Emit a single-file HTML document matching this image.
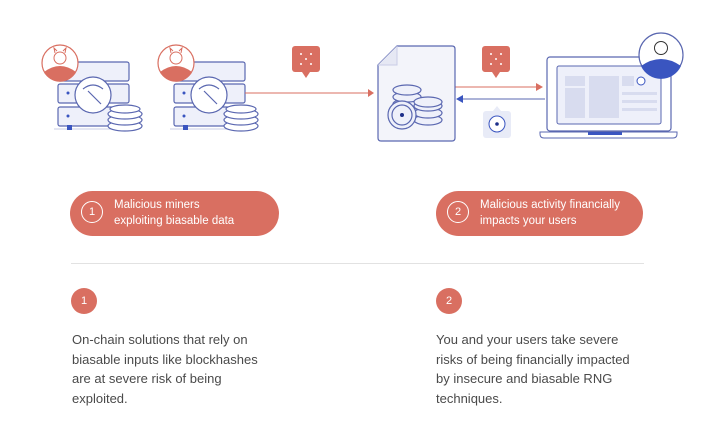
<!DOCTYPE html>
<html><head><meta charset="utf-8"><style>
body{margin:0;width:720px;height:441px;background:#fff;font-family:"Liberation Sans",sans-serif;overflow:hidden;position:relative}
.pill{position:absolute;top:191px;height:45px;border-radius:23px;background:#d96f61;color:#fff;font-size:11.5px;line-height:16px;box-sizing:border-box;padding:6px 0 0 44px}
.pill .n{position:absolute;left:11px;top:10px;width:22px;height:22px;border:1.3px solid #fff;border-radius:50%;box-sizing:border-box;text-align:center;line-height:20px;font-size:11px}
.dot{position:absolute;top:288px;width:26px;height:26px;border-radius:50%;background:#d96f61;color:#fff;font-size:11px;text-align:center;line-height:26px}
.p{position:absolute;top:330px;font-size:13px;line-height:19.5px;color:#4a4a4a}
</style></head><body>
<svg width="720" height="180" style="position:absolute;left:0;top:0" xmlns="http://www.w3.org/2000/svg">
<g fill="#eef0fa" stroke="#5a67b0" stroke-width="1.2">
  <rect x="58" y="62" width="71" height="19" rx="2"/>
  <rect x="58" y="84" width="71" height="19" rx="2"/>
  <rect x="58" y="107" width="71" height="19" rx="2"/>
  <rect x="174" y="62" width="71" height="19" rx="2"/>
  <rect x="174" y="84" width="71" height="19" rx="2"/>
  <rect x="174" y="107" width="71" height="19" rx="2"/>
</g>
<line x1="54" y1="129" x2="132" y2="129" stroke="#c9cde6"/><rect x="67" y="125" width="5" height="5" fill="#3a55c0"/>
<line x1="170" y1="129" x2="248" y2="129" stroke="#c9cde6"/><rect x="183" y="125" width="5" height="5" fill="#3a55c0"/>
<circle cx="68" cy="93" r="1.5" fill="#3a55c0"/><circle cx="68" cy="116" r="1.5" fill="#3a55c0"/>
<circle cx="184" cy="93" r="1.5" fill="#3a55c0"/><circle cx="184" cy="116" r="1.5" fill="#3a55c0"/>
<g stroke="#d96f61" stroke-width="1.2">
<circle cx="60" cy="63" r="18" fill="#fff"/><circle cx="176" cy="63" r="18" fill="#fff"/>
</g>
<path d="M44,72 Q60,60 76,72 A18,18 0 0 1 44,72Z" fill="#d96f61"/>
<path d="M160,72 Q176,60 192,72 A18,18 0 0 1 160,72Z" fill="#d96f61"/>
<circle cx="60" cy="58" r="6" fill="#fff" stroke="#d96f61"/><circle cx="176" cy="58" r="6" fill="#fff" stroke="#d96f61"/>
<path d="M55,53 L54,48 L57,51 M65,53 L66,48 L63,51 M171,53 L170,48 L173,51 M181,53 L182,48 L179,51" fill="none" stroke="#d96f61"/>
<g fill="#fff" stroke="#5a67b0" stroke-width="1.2">
<circle cx="93" cy="95" r="18"/><circle cx="209" cy="95" r="18"/>
<path d="M83,89 Q93,81 103,89 M88,91 L101,104" fill="none"/>
<path d="M199,89 Q209,81 219,89 M204,91 L217,104" fill="none"/>
<ellipse cx="125" cy="126" rx="17" ry="5"/><ellipse cx="125" cy="120" rx="17" ry="5"/><ellipse cx="125" cy="114" rx="17" ry="5"/><ellipse cx="125" cy="109" rx="15" ry="4"/>
<ellipse cx="241" cy="126" rx="17" ry="5"/><ellipse cx="241" cy="120" rx="17" ry="5"/><ellipse cx="241" cy="114" rx="17" ry="5"/><ellipse cx="241" cy="109" rx="15" ry="4"/>
</g>
<line x1="245" y1="93" x2="368" y2="93" stroke="#d96f61"/><path d="M368,89 L374,93 L368,97Z" fill="#d96f61"/>
<line x1="455" y1="87" x2="536" y2="87" stroke="#d96f61"/><path d="M536,83 L543,87 L536,91Z" fill="#d96f61"/>
<line x1="463" y1="99" x2="545" y2="99" stroke="#5a67b0"/><path d="M463,95 L456,99 L463,103Z" fill="#3a55c0"/>
<rect x="292" y="46" width="28" height="26" rx="3" fill="#d96f61"/><path d="M302,72 L306,78 L310,72Z" fill="#d96f61"/>
<rect x="482" y="46" width="28" height="26" rx="3" fill="#d96f61"/><path d="M492,72 L496,78 L500,72Z" fill="#d96f61"/>
<g fill="#fff"><circle cx="301" cy="54" r="1"/><circle cx="311" cy="54" r="1"/><circle cx="306" cy="59" r="1"/><circle cx="301" cy="64" r="1"/><circle cx="311" cy="64" r="1"/>
<circle cx="491" cy="54" r="1"/><circle cx="501" cy="54" r="1"/><circle cx="496" cy="59" r="1"/><circle cx="491" cy="64" r="1"/><circle cx="501" cy="64" r="1"/></g>
<rect x="483" y="111" width="28" height="27" rx="3" fill="#e8ebf7"/><path d="M493,111 L497,106 L501,111Z" fill="#e8ebf7"/>
<circle cx="497" cy="124" r="8" fill="#fff" stroke="#3a55c0"/><circle cx="497" cy="124" r="1.8" fill="#1d2f8a"/>
<path d="M397,46 L452,46 Q455,46 455,49 L455,138 Q455,141 452,141 L381,141 Q378,141 378,138 L378,65Z" fill="#f3f4fa" stroke="#5a67b0" stroke-width="1.2"/>
<path d="M397,46 L397,65 L378,65" fill="#e6e8f4" stroke="#c9cde6"/>
<g fill="#eef0fa" stroke="#5a67b0" stroke-width="1.2">
<ellipse cx="407" cy="104" rx="14" ry="5"/><ellipse cx="407" cy="97" rx="14" ry="5"/><ellipse cx="407" cy="90" rx="14" ry="5"/>
<ellipse cx="428" cy="120" rx="14" ry="5"/><ellipse cx="428" cy="113" rx="14" ry="5"/><ellipse cx="428" cy="106" rx="14" ry="5"/><ellipse cx="428" cy="102" rx="14" ry="5"/>
<circle cx="402" cy="115" r="14"/><circle cx="402" cy="115" r="10"/>
</g><circle cx="402" cy="115" r="2" fill="#1d2f8a"/>
<rect x="547" y="57" width="124" height="74" rx="3" fill="#fff" stroke="#5a67b0" stroke-width="1.2"/>
<rect x="557" y="66" width="104" height="58" rx="2" fill="#eef0fa" stroke="#5a67b0"/>
<path d="M540,132 L677,132 L677,134 Q677,138 673,138 L544,138 Q540,138 540,134Z" fill="#fff" stroke="#5a67b0"/>
<rect x="588" y="132" width="34" height="3" fill="#3a55c0"/>
<g fill="#d8dcef"><rect x="565" y="76" width="20" height="10"/><rect x="565" y="88" width="20" height="30"/><rect x="589" y="76" width="30" height="42"/><rect x="622" y="76" width="12" height="10"/><rect x="622" y="92" width="35" height="3"/><rect x="622" y="100" width="35" height="3"/><rect x="622" y="108" width="35" height="3"/></g>
<circle cx="641" cy="81" r="4" fill="#fff" stroke="#3a55c0"/>
<circle cx="661" cy="55" r="22" fill="#fff" stroke="#5a67b0" stroke-width="1.2"/>
<path d="M641,66 Q661,52 681,66 A22,22 0 0 1 641,66Z" fill="#3a55c0"/>
<circle cx="661" cy="48" r="6.5" fill="#fff" stroke="#333"/>
</svg>
<div class="pill" style="left:70px;width:209px"><span class="n">1</span>Malicious miners<br>exploiting biasable data</div>
<div class="pill" style="left:436px;width:207px"><span class="n">2</span>Malicious activity financially<br>impacts your users</div>
<div style="position:absolute;left:71px;top:263px;width:573px;height:1px;background:#e2e2e2"></div>
<div class="dot" style="left:71px">1</div>
<div class="dot" style="left:436px">2</div>
<div class="p" style="left:72px">On-chain solutions that rely on<br>biasable inputs like blockhashes<br>are at severe risk of being<br>exploited.</div>
<div class="p" style="left:436px">You and your users take severe<br>risks of being financially impacted<br>by insecure and biasable RNG<br>techniques.</div>
</body></html>
